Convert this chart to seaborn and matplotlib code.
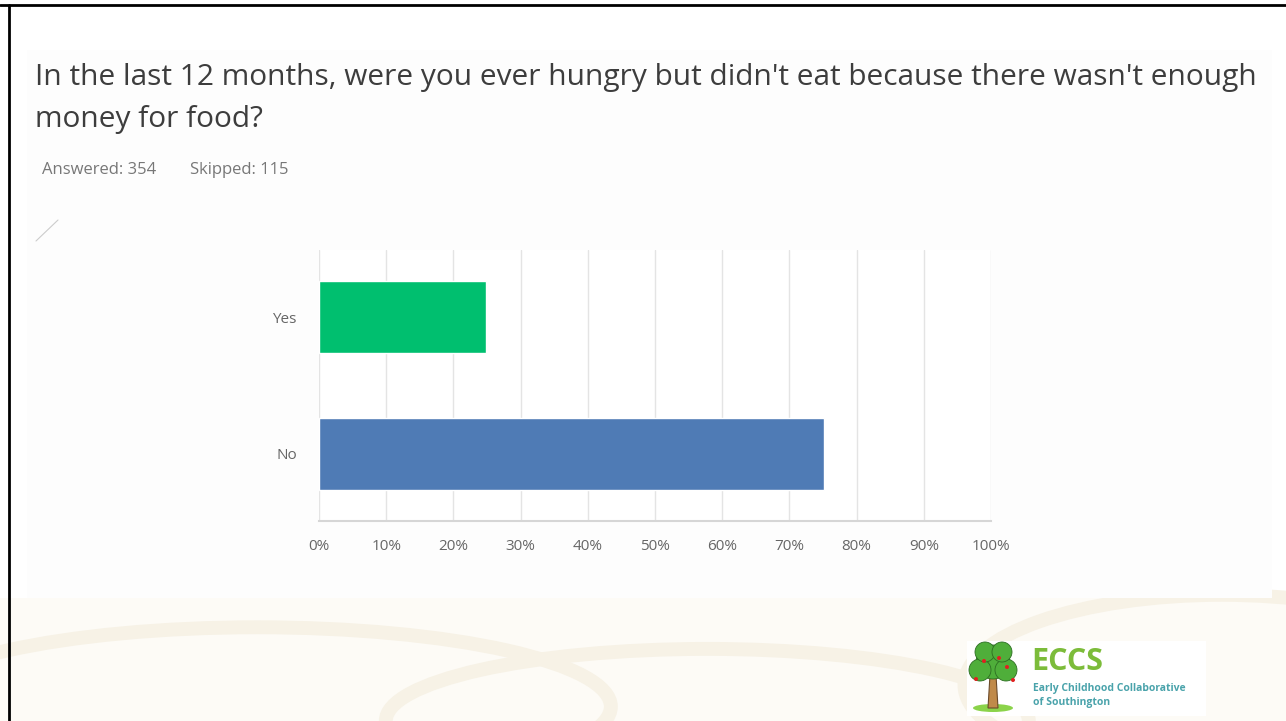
import matplotlib.pyplot as plt
import matplotlib.patches as mpatches
from matplotlib.lines import Line2D
import seaborn as sns
import pandas as pd

answers = ["Yes", "No"]
percent = [24.9, 75.1]
bar_colors = ["#00bf6f", "#4f7bb5"]
x_ticks = [0, 10, 20, 30, 40, 50, 60, 70, 80, 90, 100]
x_tick_labels = [f"{t}%" for t in x_ticks]

title = "In the last 12 months, were you ever hungry but didn't eat because there wasn't enough\nmoney for food?"
answered = "Answered: 354"
skipped = "Skipped: 115"

df = pd.DataFrame({"Answer": answers, "Percent": percent})

sns.set_style("white")
plt.rcParams["font.family"] = ["Open Sans", "DejaVu Sans"]

fig = plt.figure(figsize=(12.86, 7.21), dpi=100)
fig.patch.set_facecolor("white")

# faint watermark at the bottom of the slide
fig.add_artist(mpatches.Rectangle((0, 0), 1, 0.17, transform=fig.transFigure,
                                  facecolor="#fdfbf6", edgecolor="none", zorder=0))
for cx, cy, w, h in [(0.2, 0.02, 0.55, 0.22), (0.55, 0.0, 0.5, 0.2), (0.95, 0.05, 0.4, 0.25)]:
    fig.add_artist(mpatches.Ellipse((cx, cy), w, h, transform=fig.transFigure,
                                    facecolor="none", edgecolor="#f7f2e6", lw=10, zorder=0))
# survey panel
fig.add_artist(mpatches.Rectangle((27 / 1286, 1 - 598 / 721), 1245 / 1286, 548 / 721,
                                  transform=fig.transFigure, facecolor="#fdfdfd",
                                  edgecolor="none", zorder=0))
fig.add_artist(Line2D([36 / 1286, 58 / 1286], [1 - 241 / 721, 1 - 220 / 721],
                      transform=fig.transFigure, color="#cccccc", lw=0.8))

ax = fig.add_axes([319 / 1286, 1 - 521 / 721, 672 / 1286, 271 / 721])
ax.set_facecolor("white")
sns.barplot(data=df, y="Answer", x="Percent", hue="Answer", palette=bar_colors,
            order=answers, orient="h", width=0.52, saturation=1, legend=False,
            ax=ax, zorder=3)

ax.set_xlim(0, 100)
ax.set_ylim(1.49, -0.49)
ax.set_xticks(x_ticks)
ax.set_xticklabels(x_tick_labels)
ax.set_xlabel("")
ax.set_ylabel("")
ax.tick_params(axis="both", length=0, labelsize=11, labelcolor="#666666")
ax.tick_params(axis="x", pad=13)
ax.tick_params(axis="y", pad=16)
ax.grid(axis="x", color="#e4e4e4", lw=1, zorder=0)
for s in ["top", "right", "left"]:
    ax.spines[s].set_visible(False)
ax.spines["bottom"].set_color("#d6d6d6")
ax.spines["bottom"].set_linewidth(1.5)

fig.text(35 / 1286, 1 - 63 / 721, title, fontsize=21.5, color="#3d3d3d",
         va="top", ha="left", linespacing=1.6)
fig.text(42 / 1286, 1 - 170 / 721, answered, fontsize=12, color="#777777",
         va="center", ha="left")
fig.text(190 / 1286, 1 - 170 / 721, skipped, fontsize=12, color="#777777",
         va="center", ha="left")

# logo
fig.add_artist(mpatches.Rectangle((967 / 1286, 1 - 716 / 721), 239 / 1286, 75 / 721,
                                  transform=fig.transFigure, facecolor="white",
                                  edgecolor="none", zorder=1))
fig.add_artist(mpatches.Ellipse((993 / 1286, 1 - 708 / 721), 40 / 1286, 8 / 721,
                                transform=fig.transFigure, facecolor="#8bd34a",
                                edgecolor="none", zorder=2))
fig.add_artist(mpatches.Polygon([(988 / 1286, 1 - 708 / 721), (998 / 1286, 1 - 708 / 721),
                                 (996 / 1286, 1 - 675 / 721), (990 / 1286, 1 - 675 / 721)],
                                transform=fig.transFigure, facecolor="#c08a4a",
                                edgecolor="#6b4a2a", lw=0.8, zorder=2))
for cx, cy, r in [(993, 662, 17), (980, 670, 11), (1006, 670, 11), (985, 652, 10), (1002, 652, 10)]:
    fig.add_artist(mpatches.Ellipse((cx / 1286, 1 - cy / 721), 2 * r / 1286, 2 * r / 721,
                                    transform=fig.transFigure, facecolor="#4fae3a",
                                    edgecolor="#2d6e22", lw=0.6, zorder=2))
for cx, cy in [(984, 661), (999, 658), (1007, 667), (976, 679), (1013, 680)]:
    fig.add_artist(mpatches.Ellipse((cx / 1286, 1 - cy / 721), 4 / 1286, 4 / 721,
                                    transform=fig.transFigure, facecolor="#e02020",
                                    edgecolor="none", zorder=3))
fig.text(1031 / 1286, 1 - 662 / 721, "ECCS", fontsize=22, fontweight="bold",
         color="#7cbc3a", va="center", ha="left", zorder=3)
fig.text(1033 / 1286, 1 - 688 / 721, "Early Childhood Collaborative", fontsize=7.5,
         fontweight="bold", color="#4aa3ab", va="center", ha="left", zorder=3)
fig.text(1033 / 1286, 1 - 703 / 721, "of Southington", fontsize=7.5,
         fontweight="bold", color="#4aa3ab", va="center", ha="left", zorder=3)

# slide frame
fig.add_artist(Line2D([0, 1], [1 - 5 / 721, 1 - 5 / 721], transform=fig.transFigure,
                      color="black", lw=2))
fig.add_artist(Line2D([9 / 1286, 9 / 1286], [0, 1 - 5 / 721], transform=fig.transFigure,
                      color="black", lw=2))

fig.savefig("out.png", dpi=100)
